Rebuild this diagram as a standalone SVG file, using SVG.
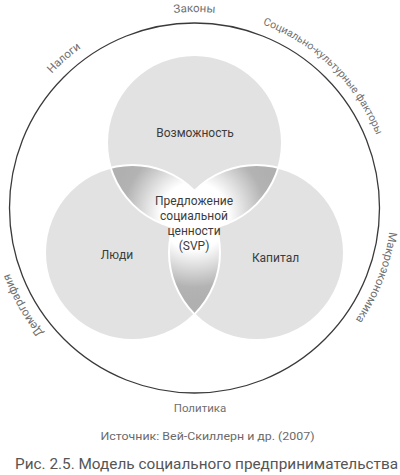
<svg xmlns="http://www.w3.org/2000/svg" xmlns:xlink="http://www.w3.org/1999/xlink" width="400" height="475" viewBox="0 0 400 475">
<style>
.venn{fill:#e2e2e2;stroke:none}
.edge{fill:none;stroke:#ffffff;stroke-width:2}
.lens{fill:url(#glow)}
.lbl{font-family:Roboto,"Open Sans",sans-serif;font-size:12px;fill:#3c3c3c;text-anchor:middle}
.rim{font-family:Roboto,"Open Sans",sans-serif;font-size:11.5px;fill:#707070}
.src{font-family:Roboto,"Open Sans",sans-serif;font-size:11px;fill:#6a6a6a;text-anchor:middle}
.cap{font-family:Roboto,"Open Sans",sans-serif;font-size:15px;fill:#555555}
</style>
<defs>
<radialGradient id="glow" gradientUnits="userSpaceOnUse" cx="194.5" cy="216" r="84">
<stop offset="0" stop-color="#ffffff"/>
<stop offset="0.4" stop-color="#ffffff"/>
<stop offset="0.85" stop-color="#b3b3b3"/>
<stop offset="1" stop-color="#b0b0b0"/>
</radialGradient>
<clipPath id="cT"><circle cx="194.5" cy="142.5" r="87.5"/></clipPath>
<clipPath id="cL"><circle cx="132.5" cy="252.5" r="87.5"/></clipPath>
<clipPath id="cR"><circle cx="256.5" cy="252.5" r="87.5"/></clipPath>
<path id="rimPath" d="M194.5,404 A196,196 0 1 1 194.5,12 A196,196 0 1 1 194.5,404"/>
</defs>

<g id="environment">
<circle cx="194.5" cy="208" r="185" fill="none" stroke="#3a3a3a" stroke-width="1.3"/>
<text class="rim" text-anchor="middle"><textPath xlink:href="#rimPath" startOffset="50%">Законы</textPath></text>
<text class="rim" text-anchor="middle"><textPath xlink:href="#rimPath" startOffset="38.6%">Налоги</textPath></text>
<text class="rim" text-anchor="middle" style="font-size:10.6px"><textPath xlink:href="#rimPath" startOffset="62.3%">Социально-культурные факторы</textPath></text>
<text class="rim" text-anchor="middle"><textPath xlink:href="#rimPath" startOffset="80.8%">Макроэкономика</textPath></text>
<text class="rim" text-anchor="middle"><textPath xlink:href="#rimPath" startOffset="16.8%">Демография</textPath></text>
<text class="rim" x="200" y="412" text-anchor="middle">Политика</text>
</g>

<g id="opportunity">
<circle class="venn" cx="194.5" cy="142.5" r="87.5"/>
</g>
<g id="people">
<circle class="venn" cx="132.5" cy="252.5" r="87.5"/>
</g>
<g id="capital">
<circle class="venn" cx="256.5" cy="252.5" r="87.5"/>
</g>

<g id="svp">
<circle class="lens" cx="194.5" cy="142.5" r="87.5" clip-path="url(#cL)"/>
<circle class="lens" cx="194.5" cy="142.5" r="87.5" clip-path="url(#cR)"/>
<circle class="lens" cx="132.5" cy="252.5" r="87.5" clip-path="url(#cR)"/>
<circle class="edge" cx="194.5" cy="142.5" r="87.5"/>
<circle class="edge" cx="132.5" cy="252.5" r="87.5"/>
<circle class="edge" cx="256.5" cy="252.5" r="87.5"/>
<text class="lbl" x="194" y="205">Предложение</text>
<text class="lbl" x="194" y="220">социальной</text>
<text class="lbl" x="194" y="235">ценности</text>
<text class="lbl" x="194" y="250">(SVP)</text>
</g>

<text class="lbl" x="195" y="137">Возможность</text>
<text class="lbl" x="117" y="259">Люди</text>
<text class="lbl" x="275.5" y="262">Капитал</text>

<text class="src" x="207.5" y="440" textLength="214" lengthAdjust="spacingAndGlyphs">Источник: Вей-Скиллерн и др. (2007)</text>
<text class="cap" x="15" y="469" textLength="383" lengthAdjust="spacingAndGlyphs">Рис. 2.5. Модель социального предпринимательства</text>
</svg>
